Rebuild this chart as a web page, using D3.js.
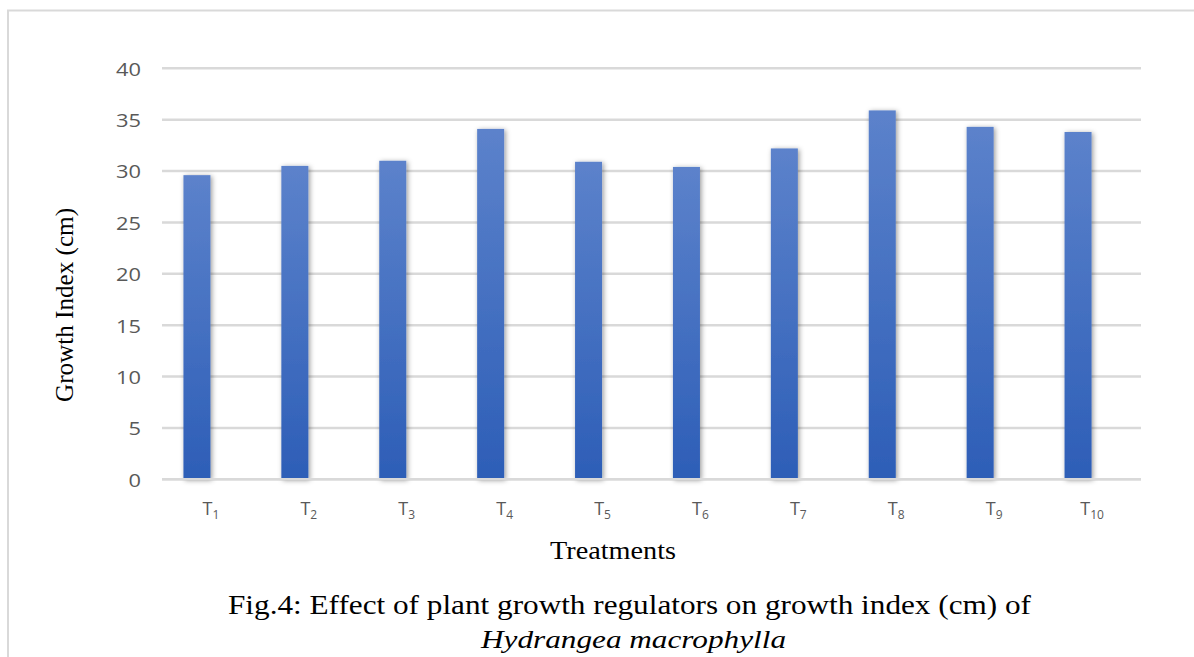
<!DOCTYPE html>
<html>
<head>
<meta charset="utf-8">
<script src="https://cdn.jsdelivr.net/npm/d3@7/dist/d3.min.js"></script>
<style>
html,body{margin:0;padding:0;background:#fff;}
svg{display:block;}
</style>
</head>
<body>
<svg id="chart" width="1194" height="657"></svg>
<script>
const categories = ["1","2","3","4","5","6","7","8","9","10"];
const values = [29.6, 30.5, 31.0, 34.1, 30.9, 30.4, 32.2, 35.9, 34.3, 33.8];
const yTicks = [0, 5, 10, 15, 20, 25, 30, 35, 40];
const yTitle = "Growth Index (cm)";
const xTitle = "Treatments";
const captionLine1 = "Fig.4: Effect of plant growth regulators on growth index (cm) of";
const captionLine2 = "Hydrangea macrophylla";

const svg = d3.select("#chart");
const W = 1194, H = 657;
const plot = {left: 162, right: 1141, top: 68.3, bottom: 479.3};

const defs = svg.append("defs");
const grad = defs.append("linearGradient").attr("id","barGrad")
  .attr("x1",0).attr("y1",0).attr("x2",0).attr("y2",1);
grad.append("stop").attr("offset","0%").attr("stop-color","#5c82cb");
grad.append("stop").attr("offset","100%").attr("stop-color","#2d5eb7");
const f = defs.append("filter").attr("id","shadow")
  .attr("x","-60%").attr("y","-10%").attr("width","220%").attr("height","120%");
f.append("feDropShadow").attr("dx",1.5).attr("dy",1).attr("stdDeviation",2.6)
  .attr("flood-color","#000").attr("flood-opacity",0.4);

svg.append("rect").attr("width",W).attr("height",H).attr("fill","#fff");
// outer chart border
svg.append("rect").attr("x",8).attr("y",10.5).attr("width",1300).attr("height",800)
  .attr("fill","none").attr("stroke","#d9d9d9").attr("stroke-width",2);

const x = d3.scaleBand().domain(categories).range([plot.left, plot.right]);
const y = d3.scaleLinear().domain([0, 40]).range([plot.bottom, plot.top]);

// gridlines
svg.append("g").selectAll("line").data(yTicks).join("line")
  .attr("x1", plot.left).attr("x2", plot.right)
  .attr("y1", d => y(d)).attr("y2", d => y(d))
  .attr("stroke", "#d9d9d9").attr("stroke-width", 2.5);

// y tick labels
svg.append("g").selectAll("text").data(yTicks).join("text")
  .attr("transform", d => `translate(141,${y(d)}) scale(1.15,1)`)
  .attr("text-anchor","end").attr("dominant-baseline","central")
  .attr("font-family","'Open Sans', 'Liberation Sans', sans-serif")
  .attr("font-size",19).attr("fill","#595959")
  .text(d => d);

// bars
const barW = 27, barShift = 14;
svg.append("g").selectAll("rect").data(values).join("rect")
  .attr("x", (d,i) => x(categories[i]) + x.bandwidth()/2 - barShift - barW/2)
  .attr("y", d => y(d))
  .attr("width", barW)
  .attr("height", d => y(0) - y(d))
  .attr("fill","url(#barGrad)")
  .attr("filter","url(#shadow)");

// baseline axis line
svg.append("line").attr("x1",plot.left).attr("x2",plot.right)
  .attr("y1",y(0)).attr("y2",y(0)).attr("stroke","#d9d9d9").attr("stroke-width",2.5);

// x tick labels T with subscripts
const xl = svg.append("g").selectAll("text").data(categories).join("text")
  .attr("x", d => x(d) + x.bandwidth()/2)
  .attr("y", 515)
  .attr("text-anchor","middle")
  .attr("font-family","'Open Sans', 'Liberation Sans', sans-serif")
  .attr("fill","#595959");
xl.append("tspan").attr("font-size",18).text("T");
xl.append("tspan").attr("font-size",12).attr("dy",4).text(d => d);

// axis titles
svg.append("text")
  .attr("transform","translate(73,305) rotate(-90)")
  .attr("text-anchor","middle")
  .attr("font-family","'Liberation Serif', 'Times New Roman', serif")
  .attr("font-size",26).attr("fill","#000")
  .attr("textLength",194).attr("lengthAdjust","spacingAndGlyphs")
  .text(yTitle);

svg.append("text")
  .attr("x",613).attr("y",559)
  .attr("text-anchor","middle")
  .attr("font-family","'Liberation Serif', 'Times New Roman', serif")
  .attr("font-size",25).attr("fill","#000")
  .attr("textLength",126).attr("lengthAdjust","spacingAndGlyphs")
  .text(xTitle);

// caption
svg.append("text")
  .attr("x",228).attr("y",614)
  .attr("font-family","'Liberation Serif', 'Times New Roman', serif")
  .attr("font-size",27).attr("fill","#000")
  .attr("textLength",803).attr("lengthAdjust","spacingAndGlyphs")
  .text(captionLine1);
svg.append("text")
  .attr("x",481).attr("y",648)
  .attr("font-family","'Liberation Serif', 'Times New Roman', serif")
  .attr("font-style","italic")
  .attr("font-size",25).attr("fill","#000")
  .attr("textLength",305).attr("lengthAdjust","spacingAndGlyphs")
  .text(captionLine2);
</script>
</body>
</html>
